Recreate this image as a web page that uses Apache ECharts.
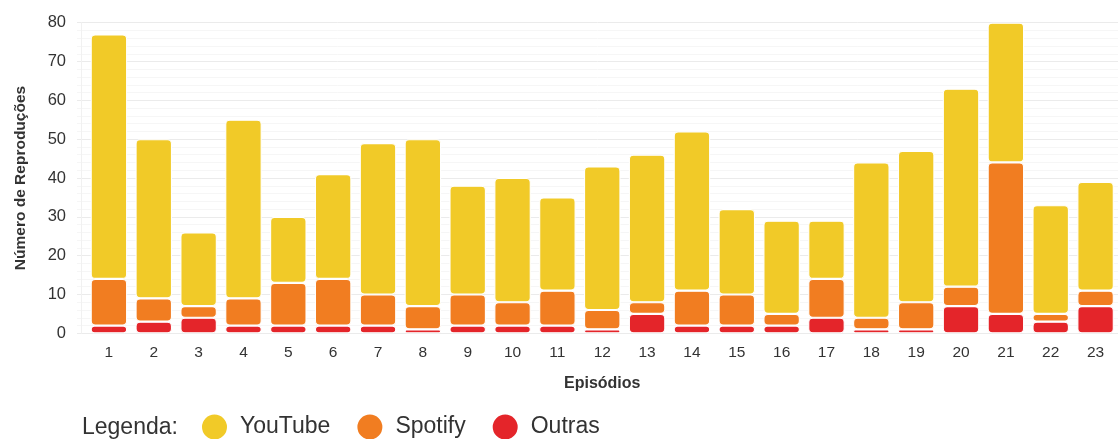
<!DOCTYPE html>
<html lang="pt">
<head>
<meta charset="utf-8">
<title>Reproduções por episódio</title>
<script src="https://cdn.jsdelivr.net/npm/echarts@6/dist/echarts.min.js"></script>
<style>
  html, body { margin: 0; padding: 0; background: #ffffff; }
  #chart { width: 1118px; height: 439px; }
</style>
</head>
<body>
<div id="chart"></div>
<script>
// Episódios 1..23
const episodios = ['1','2','3','4','5','6','7','8','9','10','11','12','13','14','15','16','17','18','19','20','21','22','23'];

// Reproduções por plataforma (empilhadas: Outras na base, depois Spotify, depois YouTube)
const outras  = [2, 3, 4, 2, 2, 2, 2, 1, 2, 2, 2, 1, 5, 2, 2, 2, 4, 1, 1, 7, 5, 3, 7];
const spotify = [12, 6, 3, 7, 11, 12, 8, 6, 8, 6, 9, 5, 3, 9, 8, 3, 10, 3, 7, 5, 39, 2, 4];
const youtube = [63, 41, 19, 46, 17, 27, 39, 43, 28, 32, 24, 37, 38, 41, 22, 24, 15, 40, 39, 51, 36, 28, 28];

const cores = { youtube: '#F1CA28', spotify: '#F17D21', outras: '#E4252A' };

const FONT = '"Liberation Sans", Arial, Helvetica, sans-serif';
const Y_MIN = 0, Y_MAX = 80, Y_STEP = 10;
const GRID_TOP = 22.7, GRID_BOTTOM = 105.7;

function segmento(nome, dados, cor) {
  return {
    name: nome,
    type: 'bar',
    stack: 'total',
    xAxisIndex: 1,
    yAxisIndex: 1,
    barWidth: 36.5,
    data: dados,
    itemStyle: {
      color: cor,
      borderColor: '#ffffff',
      borderWidth: 1.1,
      borderRadius: 4
    },
    emphasis: { disabled: true }
  };
}

const chart = echarts.init(document.getElementById('chart'), null, { renderer: 'canvas' });

chart.setOption({
  animation: false,
  backgroundColor: '#ffffff',
  textStyle: { fontFamily: FONT },
  grid: [
    // grelha de fundo com o eixo de valores
    { left: 77, right: -6, top: GRID_TOP, bottom: GRID_BOTTOM },
    // área das barras
    { left: 86.5, right: -6, top: GRID_TOP, bottom: GRID_BOTTOM }
  ],
  xAxis: [
    { gridIndex: 0, type: 'category', data: episodios, show: false },
    {
      gridIndex: 1,
      type: 'category',
      data: episodios,
      name: 'Episódios',
      nameLocation: 'middle',
      nameGap: 42,
      nameTextStyle: { fontFamily: FONT, fontSize: 16, fontWeight: 'bold', color: '#333333' },
      axisLine: { show: false },
      axisTick: { show: false },
      axisLabel: { fontFamily: FONT, fontSize: 15.5, color: '#333333', margin: 11 },
      splitLine: { show: false }
    }
  ],
  yAxis: [
    {
      gridIndex: 0,
      type: 'value',
      min: Y_MIN,
      max: Y_MAX,
      interval: Y_STEP,
      offset: -4,
      name: 'Número de Reproduções',
      nameLocation: 'middle',
      nameGap: 52,
      nameTextStyle: { fontFamily: FONT, fontSize: 15.5, fontWeight: 'bold', color: '#333333' },
      axisLine: { show: true, lineStyle: { color: '#f1f1f1', width: 1 } },
      axisTick: { show: false },
      axisLabel: { fontFamily: FONT, fontSize: 16.5, color: '#333333', margin: 15 },
      splitLine: { show: true, lineStyle: { color: '#ebebeb', width: 1 } },
      minorTick: { show: false, splitNumber: 5 },
      minorSplitLine: { show: true, lineStyle: { color: '#f6f6f6', width: 1 } }
    },
    {
      gridIndex: 1,
      type: 'value',
      min: Y_MIN,
      max: Y_MAX,
      interval: Y_STEP,
      show: false,
      splitLine: { show: false }
    }
  ],
  legend: {
    data: ['YouTube', 'Spotify', 'Outras'],
    left: 200,
    top: 412.5,
    padding: 0,
    orient: 'horizontal',
    icon: 'circle',
    itemWidth: 27,
    itemHeight: 27,
    itemGap: 25,
    selectedMode: false,
    textStyle: { fontFamily: FONT, fontSize: 23, color: '#333333', padding: [0, 0, 0, 7] }
  },
  graphic: [
    {
      type: 'text',
      left: 82,
      top: 416,
      style: { text: 'Legenda:', fontFamily: FONT, fontSize: 23, fill: '#333333' }
    }
  ],
  series: [
    segmento('Outras', outras, cores.outras),
    segmento('Spotify', spotify, cores.spotify),
    segmento('YouTube', youtube, cores.youtube)
  ]
});
</script>
</body>
</html>
